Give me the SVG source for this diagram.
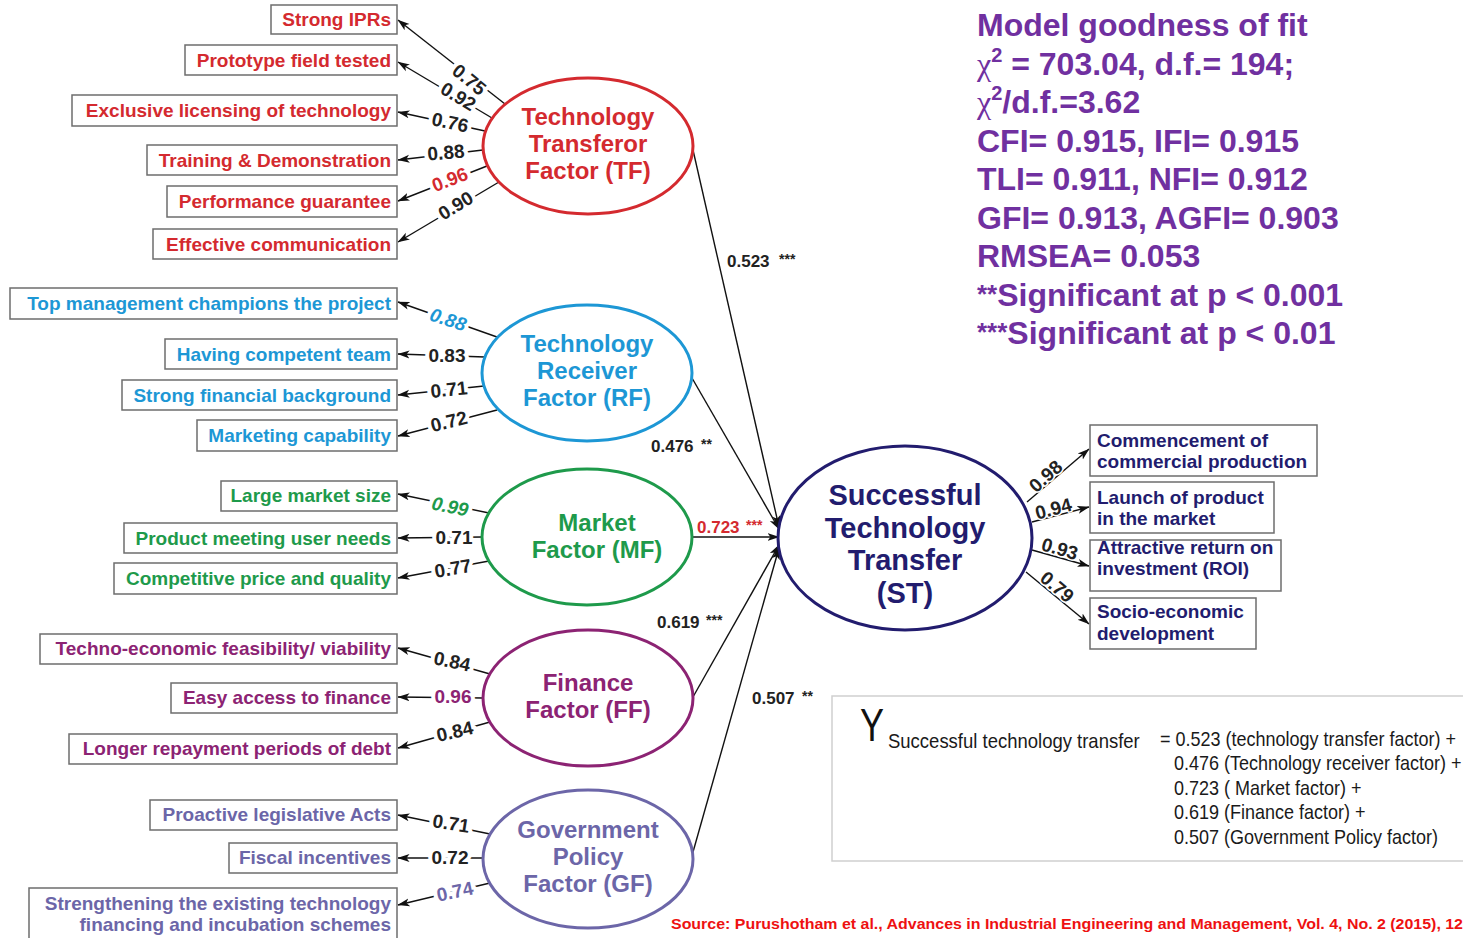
<svg xmlns="http://www.w3.org/2000/svg" width="1463" height="938" viewBox="0 0 1463 938">
<defs>
<marker id="ah" viewBox="0 0 12 10" refX="11.5" refY="5" markerWidth="12" markerHeight="10" markerUnits="userSpaceOnUse" orient="auto">
<path d="M0,1 L12,5 L0,9 L3,5 z" fill="#111"/>
</marker>
<style>
text{font-family:"Liberation Sans",Arial,sans-serif;font-weight:bold}
.box{fill:#fff;stroke:#6d6d6d;stroke-width:1.5}
.bt{font-size:19px;text-anchor:end}
.red{fill:#d42a2f}.blue{fill:#1d97d5}.green{fill:#1e9a4b}.purp{fill:#8c2373}.lav{fill:#6c66a8}.navy{fill:#221c6e}
.ell{fill:#fff;stroke-width:3}
.et{font-size:24px;text-anchor:middle}
.ln{stroke:#111;stroke-width:1.4;fill:none;marker-end:url(#ah)}
.lab{font-size:19px;text-anchor:middle;fill:#222;stroke:#fff;stroke-width:8;paint-order:stroke;stroke-linejoin:round}
.sl{font-size:17px;fill:#222}
.st{font-size:14px;fill:#222}
.rb{font-size:19px;fill:#221c6e}
.fit{font-size:32px;fill:#7030a0}
.eq{font-weight:normal;font-size:20px;fill:#1a1a1a}
</style>
</defs>
<rect width="1463" height="938" fill="#fff"/>

<g id="connectors">
<line class="ln" x1="505" y1="104" x2="398" y2="20"/>
<line class="ln" x1="492" y1="118" x2="398" y2="62"/>
<line class="ln" x1="485" y1="131" x2="398" y2="112"/>
<line class="ln" x1="483" y1="150" x2="398" y2="160"/>
<line class="ln" x1="487" y1="166" x2="398" y2="201"/>
<line class="ln" x1="499" y1="182" x2="398" y2="242"/>

<line class="ln" x1="497" y1="337" x2="398" y2="302"/>
<line class="ln" x1="485" y1="357" x2="398" y2="354"/>
<line class="ln" x1="484" y1="386" x2="398" y2="395"/>
<line class="ln" x1="497" y1="410" x2="398" y2="436"/>

<line class="ln" x1="489" y1="513" x2="398" y2="494"/>
<line class="ln" x1="482" y1="537" x2="398" y2="538"/>
<line class="ln" x1="489" y1="561" x2="398" y2="578"/>

<line class="ln" x1="490" y1="674" x2="398" y2="648"/>
<line class="ln" x1="483" y1="698" x2="398" y2="697"/>
<line class="ln" x1="490" y1="722" x2="398" y2="748"/>

<line class="ln" x1="490" y1="834" x2="398" y2="815"/>
<line class="ln" x1="483" y1="858" x2="398" y2="858"/>
<line class="ln" x1="490" y1="883" x2="398" y2="905"/>

<line class="ln" x1="693" y1="150" x2="779" y2="527"/>
<line class="ln" x1="692" y1="378" x2="779" y2="529"/>
<line class="ln" x1="692" y1="537" x2="779" y2="537"/>
<line class="ln" x1="693" y1="697" x2="779" y2="545"/>
<line class="ln" x1="693" y1="852" x2="779" y2="548"/>

<line class="ln" x1="1027" y1="502" x2="1089" y2="449"/>
<line class="ln" x1="1032" y1="522" x2="1089" y2="507"/>
<line class="ln" x1="1032" y1="550" x2="1089" y2="566"/>
<line class="ln" x1="1026" y1="572" x2="1089" y2="624"/>

<text class="lab" x="469" y="80" dy="6" transform="rotate(39 469 80)">0.75</text>
<text class="lab" x="458" y="97" dy="6" transform="rotate(31 458 97)">0.92</text>
<text class="lab" x="450" y="123" dy="6" transform="rotate(12 450 123)">0.76</text>
<text class="lab" x="446" y="153" dy="6" transform="rotate(-5 446 153)">0.88</text>
<text class="lab" x="450" y="180" dy="6" transform="rotate(-21 450 180)" style="fill:#d42a2f">0.96</text>
<text class="lab" x="456" y="206" dy="6" transform="rotate(-31 456 206)">0.90</text>

<text class="lab" x="448" y="320" dy="6" transform="rotate(18 448 320)" style="fill:#1d97d5;font-style:italic">0.88</text>
<text class="lab" x="447" y="356" dy="6">0.83</text>
<text class="lab" x="449" y="390" dy="6" transform="rotate(-6 449 390)">0.71</text>
<text class="lab" x="449" y="422" dy="6" transform="rotate(-14 449 422)">0.72</text>

<text class="lab" x="450" y="507" dy="6" transform="rotate(11 450 507)" style="fill:#1e9a4b;font-style:italic">0.99</text>
<text class="lab" x="454" y="538" dy="6">0.71</text>
<text class="lab" x="453" y="569" dy="6" transform="rotate(-10 453 569)">0.77</text>

<text class="lab" x="452" y="662" dy="6" transform="rotate(12 452 662)">0.84</text>
<text class="lab" x="453" y="697" dy="6" style="fill:#8c2373">0.96</text>
<text class="lab" x="455" y="732" dy="6" transform="rotate(-13 455 732)">0.84</text>

<text class="lab" x="451" y="824" dy="6" transform="rotate(9 451 824)">0.71</text>
<text class="lab" x="450" y="858" dy="6">0.72</text>
<text class="lab" x="455" y="892" dy="6" transform="rotate(-12 455 892)" style="fill:#6c66a8">0.74</text>

<text class="sl" x="727" y="267">0.523</text><text class="st" x="779" y="264">***</text>
<text class="sl" x="651" y="452">0.476</text><text class="st" x="701" y="449">**</text>
<text class="sl" x="697" y="533" style="fill:#d42a2f">0.723</text><text class="st" x="746" y="530" style="fill:#d42a2f">***</text>
<text class="sl" x="657" y="628">0.619</text><text class="st" x="706" y="625">***</text>
<text class="sl" x="752" y="704">0.507</text><text class="st" x="802" y="701">**</text>

<text class="lab" x="1050" y="481" transform="rotate(-42 1050 481)" style="stroke-width:3">0.98</text>
<text class="lab" x="1055" y="515" transform="rotate(-15 1055 515)" style="stroke-width:3">0.94</text>
<text class="lab" x="1058" y="555" transform="rotate(16 1058 555)" style="stroke-width:3">0.93</text>
<text class="lab" x="1053" y="592" transform="rotate(40 1053 592)" style="stroke-width:3">0.79</text>
</g>

<g id="TF">
<ellipse class="ell" cx="588" cy="146" rx="105" ry="68" stroke="#d42a2f"/>
<text class="et red" x="588" y="125">Technology</text>
<text class="et red" x="588" y="152">Transferor</text>
<text class="et red" x="588" y="179">Factor (TF)</text>
</g>
<g id="TF-items">
<rect class="box" x="271" y="5" width="126" height="29"/><text class="bt red" x="391" y="26">Strong IPRs</text>
<rect class="box" x="185" y="45" width="212" height="30"/><text class="bt red" x="391" y="67">Prototype field tested</text>
<rect class="box" x="72" y="95" width="325" height="31"/><text class="bt red" x="391" y="117">Exclusive licensing of technology</text>
<rect class="box" x="147" y="145" width="250" height="30"/><text class="bt red" x="391" y="167">Training &amp; Demonstration</text>
<rect class="box" x="167" y="186" width="230" height="31"/><text class="bt red" x="391" y="208">Performance guarantee</text>
<rect class="box" x="153" y="229" width="244" height="30"/><text class="bt red" x="391" y="251">Effective communication</text>
</g>

<g id="RF">
<ellipse class="ell" cx="587" cy="373" rx="105" ry="68" stroke="#1d97d5"/>
<text class="et blue" x="587" y="352">Technology</text>
<text class="et blue" x="587" y="379">Receiver</text>
<text class="et blue" x="587" y="406">Factor (RF)</text>
</g>
<g id="RF-items">
<rect class="box" x="10" y="288" width="387" height="31"/><text class="bt blue" x="391" y="310">Top management champions the project</text>
<rect class="box" x="165" y="339" width="232" height="30"/><text class="bt blue" x="391" y="361">Having competent team</text>
<rect class="box" x="122" y="380" width="275" height="30"/><text class="bt blue" x="391" y="402">Strong financial background</text>
<rect class="box" x="197" y="420" width="200" height="31"/><text class="bt blue" x="391" y="442">Marketing capability</text>
</g>

<g id="MF">
<ellipse class="ell" cx="587" cy="537" rx="105" ry="68" stroke="#1e9a4b"/>
<text class="et green" x="597" y="531">Market</text>
<text class="et green" x="597" y="558">Factor (MF)</text>
</g>
<g id="MF-items">
<rect class="box" x="221" y="481" width="176" height="30"/><text class="bt green" x="391" y="502">Large market size</text>
<rect class="box" x="124" y="523" width="273" height="30"/><text class="bt green" x="391" y="545">Product meeting user needs</text>
<rect class="box" x="114" y="563" width="283" height="31"/><text class="bt green" x="391" y="585">Competitive price and quality</text>
</g>

<g id="FF">
<ellipse class="ell" cx="588" cy="698" rx="105" ry="68" stroke="#8c2373"/>
<text class="et purp" x="588" y="691">Finance</text>
<text class="et purp" x="588" y="718">Factor (FF)</text>
</g>
<g id="FF-items">
<rect class="box" x="40" y="634" width="357" height="30"/><text class="bt purp" x="391" y="655">Techno-economic feasibility/ viability</text>
<rect class="box" x="171" y="683" width="226" height="30"/><text class="bt purp" x="391" y="704">Easy access to finance</text>
<rect class="box" x="69" y="734" width="328" height="30"/><text class="bt purp" x="391" y="755">Longer repayment periods of debt</text>
</g>

<g id="GF">
<ellipse class="ell" cx="588" cy="859" rx="105" ry="69" stroke="#6c66a8"/>
<text class="et lav" x="588" y="838">Government</text>
<text class="et lav" x="588" y="865">Policy</text>
<text class="et lav" x="588" y="892">Factor (GF)</text>
</g>
<g id="GF-items">
<rect class="box" x="150" y="800" width="247" height="30"/><text class="bt lav" x="391" y="821">Proactive legislative Acts</text>
<rect class="box" x="229" y="843" width="168" height="30"/><text class="bt lav" x="391" y="864">Fiscal incentives</text>
<rect class="box" x="29" y="888" width="368" height="52"/><text class="bt lav" x="391" y="910">Strengthening the existing technology</text><text class="bt lav" x="391" y="931">financing and incubation schemes</text>
</g>

<g id="ST">
<ellipse class="ell" cx="905" cy="538" rx="127" ry="92" stroke="#221c6e"/>
<text class="navy" x="905" y="505" font-size="29" text-anchor="middle">Successful</text>
<text class="navy" x="905" y="538" font-size="29" text-anchor="middle">Technology</text>
<text class="navy" x="905" y="570" font-size="29" text-anchor="middle">Transfer</text>
<text class="navy" x="905" y="603" font-size="29" text-anchor="middle">(ST)</text>
</g>
<g id="ST-items">
<rect class="box" x="1090" y="425" width="227" height="51"/><text class="rb" x="1097" y="447">Commencement of</text><text class="rb" x="1097" y="468">commercial production</text>
<rect class="box" x="1090" y="482" width="184" height="51"/><text class="rb" x="1097" y="504">Launch of product</text><text class="rb" x="1097" y="525">in the market</text>
<rect class="box" x="1090" y="540" width="191" height="51"/><text class="rb" x="1097" y="554">Attractive return on</text><text class="rb" x="1097" y="575">investment (ROI)</text>
<rect class="box" x="1090" y="598" width="166" height="51"/><text class="rb" x="1097" y="618">Socio-economic</text><text class="rb" x="1097" y="640">development</text>
</g>

<g id="fit">
<text class="fit" x="977" y="36">Model goodness of fit</text>
<text class="fit" x="977" y="75"><tspan style="font-family:'Liberation Serif',serif;font-weight:normal">χ</tspan><tspan font-size="20" dy="-13">2</tspan><tspan dy="13"> = 703.04, d.f.= 194;</tspan></text>
<text class="fit" x="977" y="113"><tspan style="font-family:'Liberation Serif',serif;font-weight:normal">χ</tspan><tspan font-size="20" dy="-13">2</tspan><tspan dy="13">/d.f.=3.62</tspan></text>
<text class="fit" x="977" y="152">CFI= 0.915, IFI= 0.915</text>
<text class="fit" x="977" y="190">TLI= 0.911, NFI= 0.912</text>
<text class="fit" x="977" y="229">GFI= 0.913, AGFI= 0.903</text>
<text class="fit" x="977" y="267">RMSEA= 0.053</text>
<text class="fit" x="977" y="306"><tspan font-size="26" dy="-3">**</tspan><tspan dy="3">Significant at p &lt; 0.001</tspan></text>
<text class="fit" x="977" y="344"><tspan font-size="26" dy="-3">***</tspan><tspan dy="3">Significant at p &lt; 0.01</tspan></text>
</g>

<g id="equation">
<rect x="832" y="696" width="640" height="165" fill="#fff" stroke="#cfcfcf" stroke-width="1.5"/>
<text x="860" y="741" font-size="46" style="font-weight:normal;fill:#111" textLength="24" lengthAdjust="spacingAndGlyphs">Y</text>
<text class="eq" transform="translate(888 748) scale(0.925 1)">Successful technology transfer</text>
<text class="eq" transform="translate(1160 746) scale(0.9 1)">= 0.523 (technology transfer factor) +</text>
<text class="eq" transform="translate(1174 770) scale(0.9 1)">0.476 (Technology receiver factor) +</text>
<text class="eq" transform="translate(1174 795) scale(0.9 1)">0.723 ( Market factor) +</text>
<text class="eq" transform="translate(1174 819) scale(0.9 1)">0.619 (Finance factor) +</text>
<text class="eq" transform="translate(1174 844) scale(0.9 1)">0.507 (Government Policy factor)</text>
</g>

<text x="671" y="929" font-size="15" fill="#ee1111" textLength="792" lengthAdjust="spacingAndGlyphs">Source: Purushotham et al., Advances in Industrial Engineering and Management, Vol. 4, No. 2 (2015), 12</text>
</svg>
